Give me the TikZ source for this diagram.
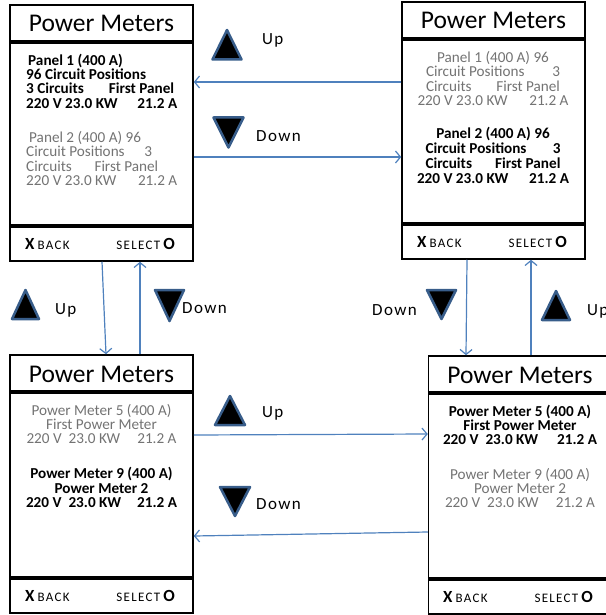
\documentclass[tikz,border=0pt]{standalone}
\usepackage{fontspec}
\setmainfont{Carlito}
\usetikzlibrary{arrows.meta}
\definecolor{arrowblue}{RGB}{79,129,189}
\definecolor{triblue}{RGB}{56,93,138}
\definecolor{dimtext}{RGB}{115,115,115}
\newcommand\backX{{\fontsize{17}{17}\selectfont\bfseries X}}
\newcommand\selO{{\fontsize{17}{17}\selectfont\bfseries O}}
\begin{document}
\begin{tikzpicture}[x=1pt,y=-1pt,
  frame/.style={draw, line width=1.5pt, inner sep=0pt, minimum width=183pt},
  sepline/.style={line width=4pt},
  conn/.style={draw=arrowblue, line width=1.2pt, -{Straight Barb[length=5pt,width=12pt]}},
  tri/.style={fill=black, draw=triblue, line width=2.5pt, line join=round},
  title/.style={font=\fontsize{25.5}{25.5}\selectfont, inner sep=0pt, anchor=base},
  sel/.style={font=\fontsize{15.2}{15.2}\selectfont\bfseries, inner sep=0pt, text=black},
  dim/.style={font=\fontsize{15.2}{15.2}\selectfont, inner sep=0pt, text=dimtext},
  foot/.style={font=\fontsize{13}{13}\selectfont\addfontfeature{LetterSpace=10}, inner sep=0pt},
  lab/.style={font=\fontsize{17}{17}\selectfont\addfontfeature{LetterSpace=8}, inner sep=0pt, anchor=base west}]
\useasboundingbox (0,0) rectangle (605,615);

% boxes
\node[frame, minimum height=256pt] (b1) at (101.5,133) {};
\node[frame, minimum height=257pt] (b2) at (493.5,130.5) {};
\node[frame, minimum height=258pt] (b3) at (101.5,484) {};
\node[frame, minimum height=258pt] (b4) at (520,485) {};
\foreach \b in {b1,b2,b3,b4}{
  \draw[sepline] ([yshift=-38pt]\b.north west) -- ([yshift=-38pt]\b.north east);
  \draw[sepline] ([yshift=36pt]\b.south west) -- ([yshift=36pt]\b.south east);
}

% titles
\node[title] (t1) at (101.5,32) {Power Meters};
\node[title] (t2) at (493.5,29) {Power Meters};
\node[title] (t3) at (101.5,382) {Power Meters};
\node[title] (t4) at (520,383) {Power Meters};

% box 1
\node[sel, anchor=base west] (p1a) at (28,66) {Panel 1 (400 A)};
\node[sel, anchor=base west] (p1b) at (26,80) {96 Circuit Positions};
\node[sel, anchor=base west] (p1c) at (26,94) {\makebox[148pt]{3 Circuits\hfill First Panel}};
\node[sel, anchor=base west] (p1d) at (26,109) {\makebox[151pt]{220 V 23.0 KW\hfill 21.2 A}};
\node[dim, anchor=base west] (p1e) at (29,142) {Panel 2 (400 A) 96};
\node[dim, anchor=base west] (p1f) at (26,156) {\makebox[126pt]{Circuit Positions\hfill 3}};
\node[dim, anchor=base west] (p1g) at (26,171) {\makebox[132pt]{Circuits\hfill First Panel}};
\node[dim, anchor=base west] (p1h) at (26,185) {\makebox[151pt]{220 V 23.0 KW\hfill 21.2 A}};

% box 2
\node[dim, anchor=base] (p2a) at (493,63) {Panel 1 (400 A) 96};
\node[dim, anchor=base] (p2b) at (493,77) {\makebox[134pt]{Circuit Positions\hfill 3}};
\node[dim, anchor=base] (p2c) at (493,92) {\makebox[134pt]{Circuits\hfill First Panel}};
\node[dim, anchor=base] (p2d) at (493,106) {\makebox[151pt]{220 V 23.0 KW\hfill 21.2 A}};
\node[sel, anchor=base] (p2e) at (493,138) {Panel 2 (400 A) 96};
\node[sel, anchor=base] (p2f) at (493,153) {\makebox[135pt]{Circuit Positions\hfill 3}};
\node[sel, anchor=base] (p2g) at (493,168) {\makebox[135pt]{Circuits\hfill First Panel}};
\node[sel, anchor=base] (p2h) at (493,183) {\makebox[152pt]{220 V 23.0 KW\hfill 21.2 A}};

% box 3
\node[dim, anchor=base] (p3a) at (101.5,415) {Power Meter 5 (400 A)};
\node[dim, anchor=base] (p3b) at (101.5,429) {First Power Meter};
\node[dim, anchor=base] (p3c) at (101.5,443) {\makebox[150pt]{220 V\hspace{7pt}23.0 KW\hfill 21.2 A}};
\node[sel, anchor=base] (p3d) at (101.5,478) {Power Meter 9 (400 A)};
\node[sel, anchor=base] (p3e) at (101.5,493) {Power Meter 2};
\node[sel, anchor=base] (p3f) at (101.5,507) {\makebox[151pt]{220 V\hspace{7pt}23.0 KW\hfill 21.2 A}};

% box 4
\node[sel, anchor=base] (p4a) at (520,416) {Power Meter 5 (400 A)};
\node[sel, anchor=base] (p4b) at (520,430) {First Power Meter};
\node[sel, anchor=base] (p4c) at (520,444) {\makebox[154pt]{220 V\hspace{7pt}23.0 KW\hfill 21.2 A}};
\node[dim, anchor=base] (p4d) at (520,479) {Power Meter 9 (400 A)};
\node[dim, anchor=base] (p4e) at (520,493) {Power Meter 2};
\node[dim, anchor=base] (p4f) at (520,507) {\makebox[150pt]{220 V\hspace{7pt}23.0 KW\hfill 21.2 A}};

% footers
\node[foot, anchor=base west] (f1l) at (25,249) {\backX\hspace{3pt}BACK};
\node[foot, anchor=base east] (f1r) at (175,249) {SELECT\hspace{3pt}\selO};
\node[foot, anchor=base west] (f2l) at (417,247) {\backX\hspace{3pt}BACK};
\node[foot, anchor=base east] (f2r) at (567,247) {SELECT\hspace{3pt}\selO};
\node[foot, anchor=base west] (f3l) at (25,601) {\backX\hspace{3pt}BACK};
\node[foot, anchor=base east] (f3r) at (175,601) {SELECT\hspace{3pt}\selO};
\node[foot, anchor=base west] (f4l) at (443,602) {\backX\hspace{3pt}BACK};
\node[foot, anchor=base east] (f4r) at (593,602) {SELECT\hspace{3pt}\selO};

% connectors
\draw[conn] (b2.west |- 0,82) -- (b1.east |- 0,82);
\draw[conn] (b1.east |- 0,157) -- (b2.west |- 0,157);
\draw[conn] (b3.east |- 0,435) -- (b4.west |- 0,434);
\draw[conn] (b4.west |- 0,532) -- (b3.east |- 0,536);
\draw[conn] (b1.south -| 102,0) -- (b3.north -| 106,0);
\draw[conn] (b3.north -| 140,0) -- (b1.south -| 140,0);
\draw[conn] (b2.south -| 467,0) -- (b4.north -| 466,0);
\draw[conn] (b4.north -| 531,0) -- (b2.south -| 531,0);

% triangles
\draw[tri] (212.5,59.5) -- (241.5,59.5) -- (227,30) -- cycle;
\draw[tri] (213.5,117.5) -- (243.5,117.5) -- (228.5,147.5) -- cycle;
\draw[tri] (12,319) -- (39,319) -- (25.5,290) -- cycle;
\draw[tri] (155,290) -- (184,290) -- (169.5,321) -- cycle;
\draw[tri] (427,290) -- (456,290) -- (441.5,319) -- cycle;
\draw[tri] (542,320) -- (570,320) -- (556,291) -- cycle;
\draw[tri] (215,425) -- (245,425) -- (230,396) -- cycle;
\draw[tri] (220,487) -- (250,487) -- (235,516) -- cycle;

% labels
\node[lab] (l1) at (262,45) {Up};
\node[lab] (l2) at (256,141) {Down};
\node[lab] (l3) at (55,314) {Up};
\node[lab] (l4) at (182,313) {Down};
\node[lab] (l5) at (372,315) {Down};
\node[lab] (l6) at (587,315) {Up};
\node[lab] (l7) at (262,417) {Up};
\node[lab] (l8) at (256,509) {Down};
\end{tikzpicture}
\end{document}
